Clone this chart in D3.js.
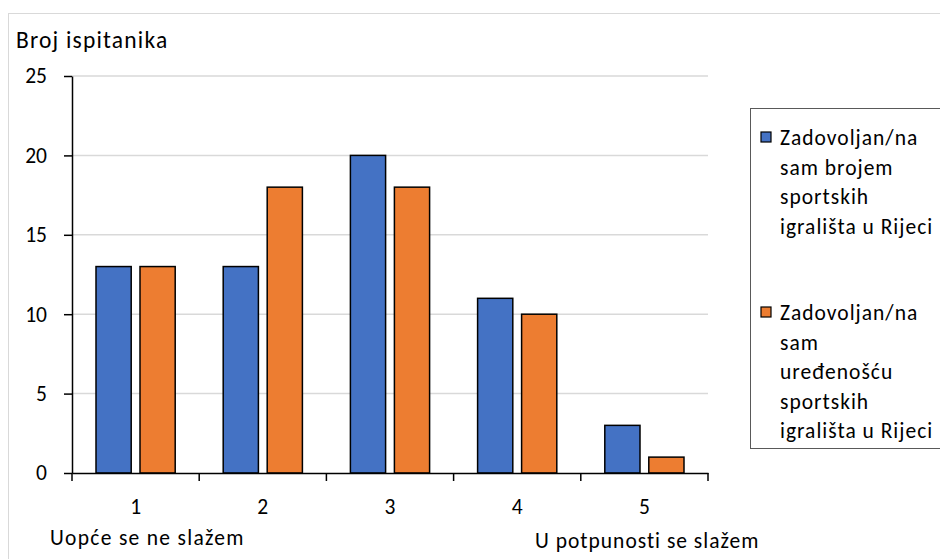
<!DOCTYPE html>
<html><head><meta charset="utf-8">
<script src="https://cdn.jsdelivr.net/npm/d3@7"></script>
<style>body{margin:0;background:#fff}svg{display:block}text{font-family:Carlito,Calibri,Lato,sans-serif;fill:#000}</style>
</head><body><svg id="c" width="940" height="559"></svg>
<script>
const categories = ["1","2","3","4","5"];
const seriesNames = ["Zadovoljan/na sam brojem sportskih igrališta u Rijeci","Zadovoljan/na sam uređenošću sportskih igrališta u Rijeci"];
const seriesA = [13,13,20,11,3];
const seriesB = [13,18,18,10,1];
const yTicks = [0,5,10,15,20,25];
const legendLines = [["Zadovoljan/na","sam brojem","sportskih","igrališta u Rijeci"],["Zadovoljan/na","sam","uređenošću","sportskih","igrališta u Rijeci"]];
const colors = ["#4472C4","#ED7D31"];

const FS = "21.5px", LS = "1px";
const svg = d3.select("#c");
svg.append("rect").attr("x",8.5).attr("y",13.5).attr("width",940).attr("height",560).attr("fill","#fff").attr("stroke","#d9d9d9");

const L=72,R=708,T=76,B=473;
const y = d3.scaleLinear().domain([0,25]).range([B,T]);
const pi = 48/127.2;
const x0 = d3.scaleBand().domain(categories).range([L,R]).paddingInner(pi).paddingOuter(pi/2);
const x1 = d3.scaleBand().domain([0,1]).range([0,x0.bandwidth()]).paddingInner(0.2);

svg.append("g").selectAll("line").data(yTicks.filter(d=>d>0)).join("line")
  .attr("x1",L).attr("x2",R).attr("y1",d=>y(d)).attr("y2",d=>y(d))
  .attr("stroke","#d9d9d9").attr("stroke-width",1.5);

const data = categories.map((c,i)=>({c,v:[seriesA[i],seriesB[i]]}));
const g = svg.append("g").selectAll("g").data(data).join("g").attr("transform",d=>`translate(${x0(d.c)},0)`);
g.selectAll("rect").data(d=>d.v.map((v,k)=>({v,k}))).join("rect")
  .attr("x",d=>x1(d.k)).attr("width",x1.bandwidth())
  .attr("y",d=>y(d.v)).attr("height",d=>B-y(d.v))
  .attr("fill",d=>colors[d.k]).attr("stroke","#000").attr("stroke-width",1.5);

const ya = svg.append("g").attr("transform",`translate(${L},0)`)
  .call(d3.axisLeft(y).tickValues(yTicks).tickSize(8).tickSizeOuter(0).tickPadding(17));
ya.select(".domain").attr("stroke","#000").attr("stroke-width",1.5);
ya.selectAll(".tick line").attr("stroke","#000").attr("stroke-width",1.5);
ya.selectAll(".tick text").style("font-size",FS).attr("fill","#000");

const xa = svg.append("g").attr("transform",`translate(0,${B})`)
  .call(d3.axisBottom(x0).tickSize(0).tickPadding(26).tickSizeOuter(0));
xa.select(".domain").attr("stroke","#000").attr("stroke-width",1.5);
xa.selectAll(".tick text").style("font-size",FS).attr("fill","#000");
const bounds = [L].concat(categories.map(c=>x0(c)+x0.bandwidth()+x0.step()*pi/2));
xa.append("g").selectAll("line").data(bounds).join("line")
  .attr("x1",d=>d).attr("x2",d=>d).attr("y1",0).attr("y2",8).attr("stroke","#000").attr("stroke-width",1.5);

svg.append("text").attr("x",16).attr("y",48).style("font-size","23.5px").style("letter-spacing","1.2px").text("Broj ispitanika");
svg.append("text").attr("x",50).attr("y",545).style("font-size",FS).style("letter-spacing","1.3px").text("Uopće se ne slažem");
svg.append("text").attr("x",535).attr("y",548).style("font-size",FS).style("letter-spacing",LS).text("U potpunosti se slažem");

svg.append("rect").attr("x",750.5).attr("y",108.5).attr("width",200).attr("height",340).attr("fill","#fff").attr("stroke","#595959");
const starts=[138,313];
legendLines.forEach((lines,k)=>{
  svg.append("rect").attr("x",761).attr("y",starts[k]-6).attr("width",10).attr("height",10)
    .attr("fill",colors[k]).attr("stroke","#000").attr("stroke-width",1.2);
  lines.forEach((t,j)=>{
    svg.append("text").attr("x",780).attr("y",starts[k]+j*29.5+7).style("font-size",FS).style("letter-spacing",LS).text(t);
  });
});
</script></body></html>
